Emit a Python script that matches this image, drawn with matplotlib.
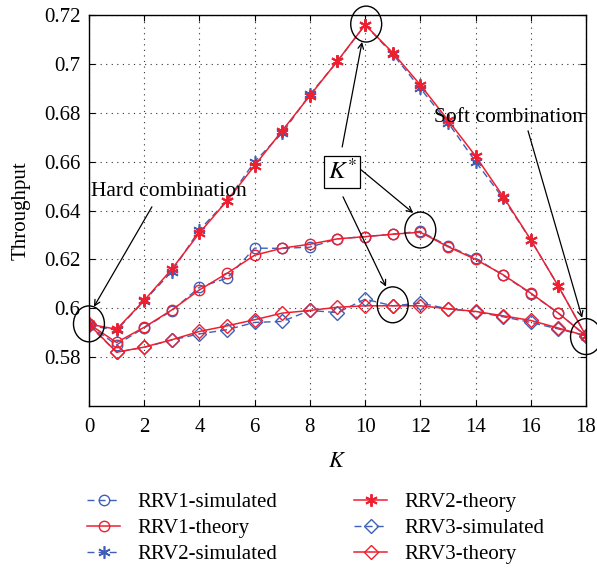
import numpy as np
import matplotlib
matplotlib.use('Agg')
from matplotlib import pyplot as plt
from matplotlib.patches import Ellipse

plt.rcParams['font.family'] = ['Liberation Serif', 'DejaVu Serif']
plt.rcParams['mathtext.fontset'] = 'stix'

K = np.arange(0, 19)

rrv1_sim = [0.593, 0.585, 0.592, 0.599, 0.6086, 0.6123, 0.6246, 0.6245, 0.625, 0.6284,
            0.6293, 0.6303, 0.6315, 0.6255, 0.6205, 0.6135, 0.606, 0.598, 0.5887]
rrv1_theory = [0.5935, 0.586, 0.5922, 0.5993, 0.6075, 0.6143, 0.6217, 0.6246, 0.6262, 0.6284,
               0.6293, 0.6303, 0.6311, 0.6252, 0.620, 0.6137, 0.6062, 0.598, 0.5887]
rrv2_sim = [0.593, 0.591, 0.603, 0.615, 0.632, 0.644, 0.660, 0.6717, 0.6875, 0.701,
            0.716, 0.704, 0.690, 0.676, 0.660, 0.645, 0.628, 0.609, 0.5887]
rrv2_theory = [0.5935, 0.5914, 0.6032, 0.616, 0.6308, 0.644, 0.6584, 0.6727, 0.687, 0.7012,
               0.716, 0.7046, 0.6914, 0.677, 0.6623, 0.6457, 0.628, 0.609, 0.5887]
rrv3_sim = [0.593, 0.582, 0.584, 0.587, 0.5895, 0.5912, 0.5942, 0.5946, 0.5991, 0.5982,
            0.6037, 0.601, 0.6021, 0.5998, 0.5985, 0.5965, 0.5942, 0.5915, 0.5887]
rrv3_theory = [0.5935, 0.582, 0.5841, 0.5871, 0.5905, 0.5928, 0.5953, 0.598, 0.5991, 0.6004,
               0.601, 0.601, 0.601, 0.5998, 0.5987, 0.5969, 0.595, 0.5919, 0.5887]

xticks = np.arange(0, 19, 2)
yticks = [0.58, 0.6, 0.62, 0.64, 0.66, 0.68, 0.7, 0.72]
ytick_labels = ['0.58', '0.6', '0.62', '0.64', '0.66', '0.68', '0.7', '0.72']

blue = '#4060b8'
red = '#ee2030'
asterisk = (6, 2, 0)

fig = plt.figure(figsize=(5.97, 5.69), dpi=100)
ax = fig.add_axes([0.149, 0.2865, 0.8326, 0.6871])

sim_style = dict(color=blue, linestyle=(0, (5, 3)), linewidth=1.0, markerfacecolor='none')
th_style = dict(color=red, linestyle='-', linewidth=1.1, markerfacecolor='none')

ax.plot(K, rrv1_sim, marker='o', markersize=7.5, label='RRV1-simulated', **sim_style)
ax.plot(K, rrv1_theory, marker='o', markersize=7.5, label='RRV1-theory', **th_style)
ax.plot(K, rrv2_sim, marker=asterisk, markersize=9, markeredgewidth=1.2,
        label='RRV2-simulated', **sim_style)
ax.plot(K, rrv2_theory, marker=asterisk, markersize=9, markeredgewidth=1.4,
        label='RRV2-theory', **th_style)
ax.plot(K, rrv3_sim, marker='D', markersize=7.5, label='RRV3-simulated', **sim_style)
ax.plot(K, rrv3_theory, marker='D', markersize=7.5, label='RRV3-theory', **th_style)

ax.set_xlim(0, 18)
ax.set_ylim(0.56, 0.72)
ax.set_xticks(xticks)
ax.set_yticks(yticks)
ax.set_yticklabels(ytick_labels)
ax.tick_params(direction='in', labelsize=15, length=4, top=True, right=True)
ax.tick_params(axis='x', pad=9)
ax.tick_params(axis='y', pad=6)
ax.grid(True, linestyle=(0, (1, 4)), color='#333333', linewidth=0.8)
for s in ax.spines.values():
    s.set_linewidth(1.0)

ax.set_xlabel('$K$', fontsize=16, labelpad=11)
ax.set_ylabel('Throughput', fontsize=15, labelpad=10)

# highlight circles
for cx, cy in [(0, 0.5936), (10.04, 0.7163), (12, 0.632), (11, 0.6014), (18, 0.5884)]:
    ax.add_patch(Ellipse((cx, cy), 1.12, 0.0147, fill=False, edgecolor='black',
                         linewidth=1.0, clip_on=False, zorder=5))

arrow = dict(arrowstyle='->', color='black', linewidth=0.9, shrinkA=0, shrinkB=0)

ax.text(0.07, 0.6476, 'Hard combination', fontsize=15.5, ha='left', va='center')
ax.annotate('', xy=(0.18, 0.6006), xytext=(2.28, 0.6415), arrowprops=arrow)

ax.text(17.9, 0.678, 'Soft combination', fontsize=15.5, ha='right', va='center')
ax.annotate('', xy=(17.86, 0.5961), xytext=(15.9, 0.6726), arrowprops=arrow,
            annotation_clip=False)

ax.text(9.17, 0.6558, '$K^{*}$', fontsize=18, ha='center', va='center',
        bbox=dict(boxstyle='square,pad=0.15', facecolor='white', edgecolor='black', linewidth=0.9))
ax.annotate('', xy=(9.89, 0.709), xytext=(9.17, 0.666), arrowprops=arrow)
ax.annotate('', xy=(11.74, 0.639), xytext=(9.86, 0.6566), arrowprops=arrow)
ax.annotate('', xy=(10.76, 0.6088), xytext=(9.2, 0.6456), arrowprops=arrow)

fig.legend(loc='upper left', bbox_to_anchor=(0.146, 0.134), ncol=2, frameon=False,
           fontsize=15, handlelength=1.6, handletextpad=0.8, columnspacing=3.7,
           labelspacing=0.3, borderpad=0, borderaxespad=0)

fig.savefig('out.png', dpi=100)
